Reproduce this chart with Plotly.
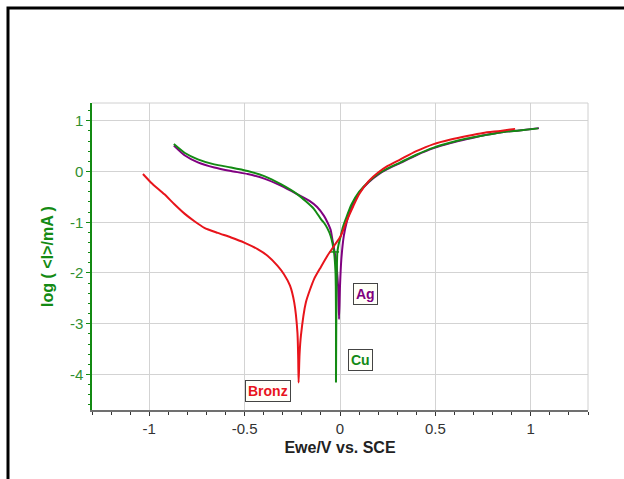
import plotly.graph_objects as go

# Potentiodynamic polarisation curves: potential (V vs. SCE) and log current (mA)
cu_e = [-0.871, -0.815, -0.745, -0.659, -0.571, -0.484, -0.397, -0.31, -0.223, -0.136,
        -0.10, -0.084, -0.066, -0.049, -0.031, -0.024, -0.022, -0.021, -0.021,
        -0.019, -0.017, -0.014, -0.008, 0.004, 0.015, 0.03, 0.06, 0.10, 0.15, 0.20,
        0.25, 0.317, 0.40, 0.491, 0.58, 0.666, 0.75, 0.84, 0.94, 1.04]
cu_logi = [0.54, 0.37, 0.24, 0.14, 0.08, 0.01, -0.09, -0.25, -0.45, -0.74,
           -0.94, -1.01, -1.12, -1.27, -1.60, -1.95, -2.26, -3.0, -4.16,
           -2.6, -2.0, -1.6, -1.45, -1.27, -1.10, -0.94, -0.65, -0.40, -0.20, -0.05,
           0.06, 0.18, 0.33, 0.47, 0.57, 0.65, 0.71, 0.77, 0.81, 0.85]

# short horizontal step recorded in the Cu sweep
cu_step_e = [-0.057, -0.005]
cu_step_logi = [-1.585, -1.585]

ag_e = [-0.871, -0.815, -0.745, -0.659, -0.571, -0.484, -0.397, -0.31, -0.223, -0.16,
        -0.12, -0.084, -0.066, -0.049, -0.04, -0.022, -0.01, -0.005, 0.0, 0.007, 0.02,
        0.035, 0.06, 0.10, 0.15, 0.20, 0.25, 0.317, 0.40, 0.491, 0.58, 0.666,
        0.75, 0.84, 0.94, 1.043]
ag_logi = [0.51, 0.32, 0.18, 0.08, 0.01, -0.05, -0.14, -0.28, -0.45, -0.58,
           -0.70, -0.875, -1.0, -1.15, -1.34, -1.73, -2.26, -2.91, -2.26, -1.73, -1.27,
           -1.0, -0.70, -0.42, -0.21, -0.06, 0.05, 0.17, 0.32, 0.46, 0.56, 0.64,
           0.71, 0.77, 0.81, 0.855]

bronz_e = [-1.033, -0.99, -0.92, -0.868, -0.815, -0.763, -0.711, -0.641, -0.571, -0.502,
           -0.432, -0.38, -0.327, -0.293, -0.262, -0.240, -0.223, -0.219, -0.217,
           -0.212, -0.205, -0.179, -0.136, -0.10, -0.066, -0.03, 0.004, 0.039, 0.07,
           0.10, 0.15, 0.20, 0.25, 0.317, 0.40, 0.491, 0.58, 0.666, 0.75, 0.84, 0.918]
bronz_logi = [-0.05, -0.22, -0.45, -0.645, -0.83, -0.98, -1.11, -1.21, -1.30, -1.40,
              -1.53, -1.66, -1.86, -2.03, -2.25, -2.58, -3.18, -3.7, -4.16,
              -3.6, -3.24, -2.58, -2.12, -1.88, -1.66, -1.46, -1.27, -0.94, -0.68,
              -0.45, -0.19, -0.02, 0.11, 0.24, 0.40, 0.54, 0.63, 0.70, 0.76, 0.80, 0.84]

# curve labels: text, anchor potential, anchor log current, colour
labels = [("Ag", 0.136, -2.42, "#800080"),
          ("Cu", 0.107, -3.71, "#138a13"),
          ("Bronz", -0.375, -4.32, "#e8141b")]

x_ticks = [-1, -0.5, 0, 0.5, 1]
y_ticks = [1, 0, -1, -2, -3, -4]

RED, GREEN, PURPLE = "#e8141b", "#138a13", "#800080"
FONT = "Arial, Liberation Sans, sans-serif"


def curve(x, y, name, color, width=2):
    return go.Scatter(x=x, y=y, mode="lines", name=name,
                      line=dict(color=color, width=width, shape="spline",
                                smoothing=0.6))


fig = go.Figure()
fig.add_trace(curve(ag_e, ag_logi, "Ag", PURPLE))
fig.add_trace(curve(cu_e, cu_logi, "Cu", GREEN))
fig.add_trace(go.Scatter(x=cu_step_e, y=cu_step_logi, mode="lines", name="Cu",
                         line=dict(color=GREEN, width=1.5)))
fig.add_trace(curve(bronz_e, bronz_logi, "Bronz", RED))

for text, xe, yl, col in labels:
    fig.add_annotation(x=xe, y=yl, text=f"<b>{text}</b>", showarrow=False,
                       font=dict(family=FONT, size=14, color=col),
                       bgcolor="#fffff8", bordercolor="#444444", borderwidth=1,
                       borderpad=2)

# outer black frame and light plot-area border (top and right)
fig.add_shape(type="rect", xref="paper", yref="paper",
              x0=(8 - 92) / 496, x1=(660 - 92) / 496,
              y0=(410 - 520) / 307, y1=(410 - 8) / 307,
              line=dict(color="black", width=3), layer="below")
fig.add_shape(type="line", xref="paper", yref="paper", x0=0, x1=1, y0=1, y1=1,
              line=dict(color="#d0d0d0", width=1))
fig.add_shape(type="line", xref="paper", yref="paper", x0=1, x1=1, y0=0, y1=1,
              line=dict(color="#d0d0d0", width=1))

fig.update_layout(
    width=624, height=479,
    margin=dict(l=92, r=36, t=103, b=69),
    paper_bgcolor="white", plot_bgcolor="white",
    showlegend=False,
    font=dict(family=FONT),
    xaxis=dict(
        range=[-1.3, 1.3], tickvals=x_ticks,
        ticktext=[f"{v:g}" for v in x_ticks],
        showgrid=True, gridcolor="#d3d3d3", gridwidth=1, zeroline=False,
        showline=True, linecolor="#707070", linewidth=1.5,
        ticks="outside", ticklen=4, tickcolor="#333333",
        minor=dict(dtick=0.1, tick0=0, ticks="outside", ticklen=3,
                   tickcolor="#333333", showgrid=False),
        tickfont=dict(size=15, color="#333333"),
        title=dict(text="<b>Ewe/V vs. SCE</b>", standoff=6,
                   font=dict(size=16, color="#222222")),
    ),
    yaxis=dict(
        range=[-4.7, 1.35], tickvals=y_ticks,
        ticktext=[f"{v:g}" for v in y_ticks],
        showgrid=True, gridcolor="#d3d3d3", gridwidth=1, zeroline=False,
        showline=True, linecolor=GREEN, linewidth=1.5,
        ticks="outside", ticklen=4, tickcolor=GREEN,
        minor=dict(dtick=0.2, tick0=0, ticks="outside", ticklen=2,
                   tickcolor=GREEN, showgrid=False),
        tickfont=dict(size=15, color="#2f8f2f"),
        title=dict(text="<b>log ( &lt;I&gt;/mA )</b>", standoff=12,
                   font=dict(size=16, color=GREEN)),
    ),
)

fig.write_html("out.html")
